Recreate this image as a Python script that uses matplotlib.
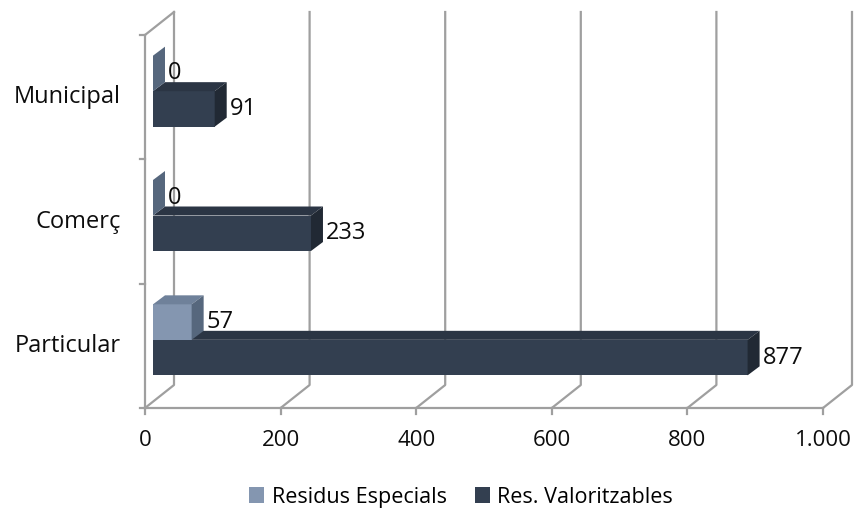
import matplotlib.pyplot as plt
from matplotlib.patches import Polygon, Patch

categories = ['Particular', 'Comerç', 'Municipal']
res_especials = [57, 0, 0]
res_valoritzables = [877, 233, 91]
series_names = ['Residus Especials', 'Res. Valoritzables']
x_ticks = [0, 200, 400, 600, 800, 1000]
x_tick_labels = ['0', '200', '400', '600', '800', '1.000']

plt.rcParams['font.family'] = ['Open Sans', 'DejaVu Sans']

W_PX, H_PX = 858, 511
fig = plt.figure(figsize=(W_PX / 100, H_PX / 100), dpi=100)

# front plane of the 3d box, in pixels
left, right, top, bottom = 145, 823, 35, 408
ax = fig.add_axes([left / W_PX, 1 - bottom / H_PX, (right - left) / W_PX, (bottom - top) / H_PX])
xmax = x_ticks[-1]
nc = len(categories)
ax.set_xlim(0, xmax)
ax.set_ylim(0, nc)
ax.axis('off')

sx = xmax / (right - left)   # data units per pixel
sy = nc / (bottom - top)

wall_dx, wall_dy = 29 * sx, 23 * sy    # depth of the walls
face_dx, face_dy = 8 * sx, 6 * sy      # where bar fronts sit
bar_dx, bar_dy = 12 * sx, 9 * sy       # bar depth
bar_h = 35.5 * sy

grid = '#9f9f9f'
light = ('#8496b0', '#6f819a', '#56677d')   # front, top, side
dark = ('#333f50', '#2b3544', '#212934')

# --- walls / floor ---
lw = 1.6
for v in x_ticks:
    ax.plot([v, v + wall_dx, v + wall_dx], [0, wall_dy, nc + wall_dy], color=grid, lw=lw, clip_on=False, zorder=1)
    ax.plot([v, v], [0, -6 * sy], color=grid, lw=lw, clip_on=False, zorder=1)
    ax.text(v, -32 * sy, x_tick_labels[x_ticks.index(v)], ha='center', va='center', fontsize=16, color='#0d0d0d')
ax.plot([0, 0], [0, nc], color=grid, lw=lw, clip_on=False, zorder=1)
ax.plot([0, wall_dx], [nc, nc + wall_dy], color=grid, lw=lw, clip_on=False, zorder=1)
ax.plot([0, xmax], [0, 0], color=grid, lw=lw, clip_on=False, zorder=1)
for k in range(nc + 1):
    ax.plot([-5 * sx, 0], [k, k], color=grid, lw=lw, clip_on=False, zorder=1)

for i, cat in enumerate(categories):
    ax.text(-24 * sx, i + 0.5, cat, ha='right', va='center', fontsize=17, color='#0d0d0d')


def draw_box(val, y0, cols, z):
    x0 = face_dx
    x1 = face_dx + val
    y1 = y0 + bar_h
    if val > 0:
        ax.barh(y0 + bar_h / 2, val, left=x0, height=bar_h, color=cols[0], zorder=z, clip_on=False)
    ax.add_patch(Polygon([(x0, y1), (x1, y1), (x1 + bar_dx, y1 + bar_dy), (x0 + bar_dx, y1 + bar_dy)],
                         closed=True, facecolor=cols[1], edgecolor='none', zorder=z, clip_on=False))
    ax.add_patch(Polygon([(x1, y0), (x1, y1), (x1 + bar_dx, y1 + bar_dy), (x1 + bar_dx, y0 + bar_dy)],
                         closed=True, facecolor=cols[2], edgecolor='none', zorder=z, clip_on=False))
    ax.text(x1 + bar_dx + 3 * sx, y0 + bar_h / 2, str(val), ha='left', va='center',
            fontsize=17, color='#0d0d0d', zorder=6)


for i in range(nc):
    center = i + 0.5 + face_dy
    draw_box(res_valoritzables[i], center - bar_h, dark, 3)
    draw_box(res_especials[i], center, light, 4)

handles = [Patch(facecolor=light[0]), Patch(facecolor=dark[0])]
fig.legend(handles, series_names, loc='center', bbox_to_anchor=(461 / W_PX, 1 - 497 / H_PX), ncol=2,
           frameon=False, fontsize=15.5, handlelength=0.7, handleheight=0.7, handletextpad=0.35,
           columnspacing=1.3)

fig.savefig('out.png', dpi=100)
